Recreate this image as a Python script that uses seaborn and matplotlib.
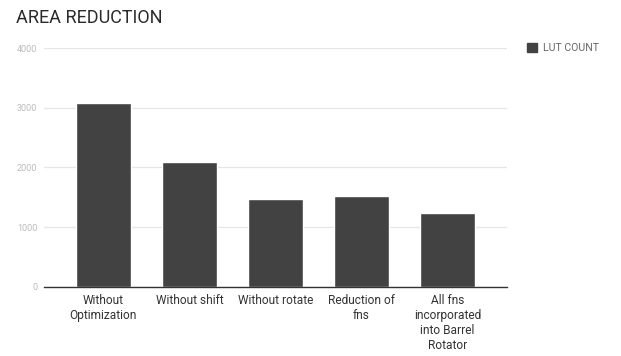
import matplotlib
matplotlib.use("Agg")
import matplotlib.pyplot as plt
import seaborn as sns
import pandas as pd
from matplotlib.patches import Patch

categories = ["Without\nOptimization", "Without shift", "Without rotate",
              "Reduction of\nfns", "All fns\nincorporated\ninto Barrel\nRotator"]
lut_count = [3080, 2085, 1475, 1525, 1237]
yticks = [0, 1000, 2000, 3000, 4000]
series_name = "LUT COUNT"
title = "AREA REDUCTION"

sns.set_theme(style="white")
plt.rcParams['font.family'] = ['Roboto', 'DejaVu Sans']

df = pd.DataFrame({"cat": categories, "val": lut_count})

fig = plt.figure(figsize=(6.21, 3.56), dpi=100)
ax = fig.add_axes([0.071, 0.194, 0.745, 0.671])
sns.barplot(data=df, x="cat", y="val", color="#424242", saturation=1,
            width=0.64, ax=ax, zorder=3)
ax.set_xlim(-0.69, 4.69)
ax.set_ylim(0, 4000)
ax.set_yticks(yticks)
ax.set_yticklabels([str(t) for t in yticks], fontsize=6.5, color="#bbbbbb")
ax.tick_params(axis="y", length=0, pad=5)
ax.tick_params(axis="x", length=0, pad=5, labelsize=8.6, labelcolor="#333333")
for lbl in ax.get_xticklabels():
    lbl.set_linespacing(1.2)
    lbl.set_verticalalignment("top")
ax.yaxis.grid(True, color="#e6e6e6", linewidth=0.9, zorder=0)
for s in ["top", "right", "left"]:
    ax.spines[s].set_visible(False)
ax.spines["bottom"].set_color("#333333")
ax.spines["bottom"].set_linewidth(1.0)
ax.spines["bottom"].set_zorder(4)
ax.set_xlabel("")
ax.set_ylabel("")

fig.text(0.026, 0.95, title, fontsize=13, color="#2a2a2a", va="center", ha="left")

handles = [Patch(facecolor="#424242", edgecolor="#424242")]
fig.legend(handles, [series_name], loc="center left", bbox_to_anchor=(0.849, 0.865),
           frameon=False, fontsize=7.6, labelcolor="#666666", handlelength=0.9,
           handleheight=0.9, handletextpad=0.55, borderaxespad=0, borderpad=0)

fig.savefig("out.png", dpi=100)
